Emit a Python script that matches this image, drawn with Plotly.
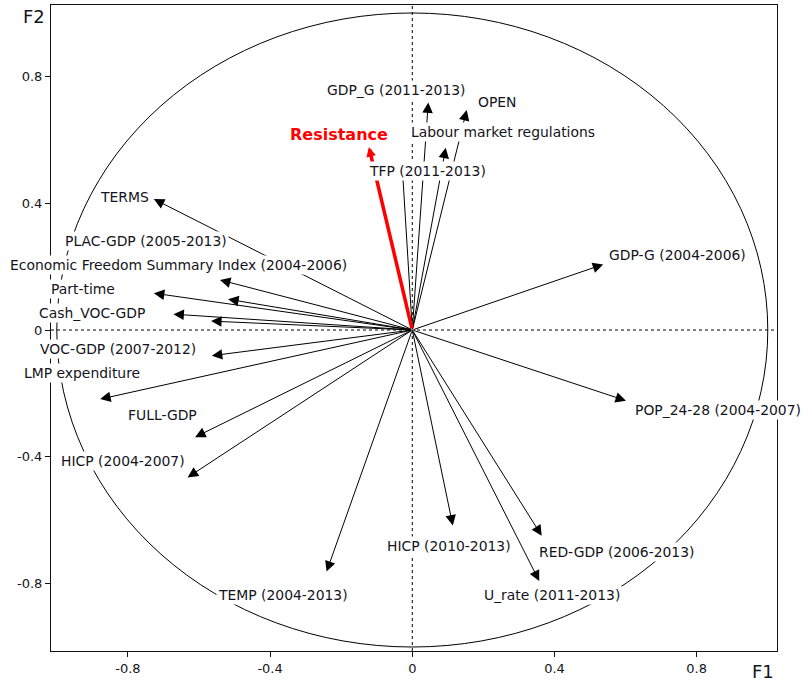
import plotly.graph_objects as go

# ---- data: loadings of active variables on F1 / F2 ----
variables = [
    "TERMS", "PLAC-GDP (2005-2013)", "Economic Freedom Summary Index (2004-2006)",
    "Part-time", "Cash_VOC-GDP", "", "VOC-GDP (2007-2012)", "LMP expenditure",
    "FULL-GDP", "HICP (2004-2007)", "TEMP (2004-2013)", "HICP (2010-2013)",
    "RED-GDP (2006-2013)", "U_rate (2011-2013)", "POP_24-28 (2004-2007)",
    "GDP-G (2004-2006)", "GDP_G (2011-2013)", "OPEN",
    "Labour market regulations", "TFP (2011-2013)",
]
f1 = [-0.727, -0.518, -0.541, -0.727, -0.672, -0.566, -0.564, -0.878,
      -0.611, -0.632, -0.241, 0.114, 0.364, 0.357, 0.601,
      0.537, 0.045, 0.153, 0.094, -0.028]
f2 = [0.413, 0.097, 0.158, 0.116, 0.050, 0.028, -0.081, -0.218,
      -0.338, -0.465, -0.762, -0.617, -0.649, -0.792, -0.223,
      0.207, 0.718, 0.694, 0.575, 0.510]

# supplementary variable
supp_names = ["Resistance"]
supp_f1 = [-0.122]
supp_f2 = [0.577]

tick_vals = [-0.8, -0.4, 0, 0.4, 0.8]
tick_text = ["-0.8", "-0.4", "0", "0.4", "0.8"]

# ---- label placement (pixel offsets from arrow tips) ----
label_offsets = {
    "TERMS": (-29, 2),
    "PLAC-GDP (2005-2013)": (-82, 58),
    "Economic Freedom Summary Index (2004-2006)": (-41, 15),
    "Part-time": (-71, 4),
    "Cash_VOC-GDP": (-81, 1),
    "VOC-GDP (2007-2012)": (-94, 7),
    "LMP expenditure": (-18, 26),
    "FULL-GDP": (-33, 22),
    "HICP (2004-2007)": (-65, 16),
    "TEMP (2004-2013)": (-44, -23),
    "HICP (2010-2013)": (-4, -20),
    "RED-GDP (2006-2013)": (75, -16),
    "U_rate (2011-2013)": (13, -14),
    "POP_24-28 (2004-2007)": (92, -9),
    "GDP-G (2004-2006)": (74, 9),
    "GDP_G (2011-2013)": (-32, 12),
    "OPEN": (30, 8),
    "Labour market regulations": (57, 16),
    "TFP (2011-2013)": (25, -3),
    "Resistance": (-30, 13),
}

FONT = "DejaVu Sans"
TXT = "#141420"

fig = go.Figure()
fig.add_trace(go.Scatter(x=f1, y=f2, mode="markers", marker=dict(size=1, opacity=0),
                         text=variables, hoverinfo="text", showlegend=False))

annotations = []
# arrows first
for name, x, y in zip(variables, f1, f2):
    annotations.append(dict(
        x=x, y=y, ax=0, ay=0, xref="x", yref="y", axref="x", ayref="y",
        text="", showarrow=True, arrowhead=2, arrowsize=2.1, arrowwidth=1,
        arrowcolor="black", standoff=0, startstandoff=0))
for name, x, y in zip(supp_names, supp_f1, supp_f2):
    annotations.append(dict(
        x=x, y=y, ax=0, ay=0, xref="x", yref="y", axref="x", ayref="y",
        text="", showarrow=True, arrowhead=2, arrowsize=0.55, arrowwidth=3.5,
        arrowcolor="#ff0000", standoff=0, startstandoff=0))
# labels on top (white background hides lines beneath)
for name, x, y in zip(variables, f1, f2):
    if not name:
        continue
    dx, dy = label_offsets[name]
    annotations.append(dict(
        x=x, y=y, xref="x", yref="y", text=name, showarrow=False,
        xshift=dx, yshift=dy, xanchor="center", yanchor="middle",
        bgcolor="white", borderpad=1,
        font=dict(family=FONT, size=13.9, color=TXT)))
for name, x, y in zip(supp_names, supp_f1, supp_f2):
    dx, dy = label_offsets[name]
    annotations.append(dict(
        x=x, y=y, xref="x", yref="y", text="<b>%s</b>" % name, showarrow=False,
        xshift=dx, yshift=dy, xanchor="center", yanchor="middle",
        bgcolor="white", borderpad=0,
        font=dict(family=FONT, size=16, color="#ff0000")))
# axis names
annotations.append(dict(x=-0.0241, y=0.9825, xref="paper", yref="paper", text="F2",
                        showarrow=False, xanchor="center", yanchor="middle",
                        font=dict(family=FONT, size=18, color=TXT)))
annotations.append(dict(x=0.9807, y=-0.0325, xref="paper", yref="paper", text="F1",
                        showarrow=False, xanchor="center", yanchor="middle",
                        font=dict(family=FONT, size=18, color=TXT)))

shapes = [
    dict(type="circle", xref="x", yref="y", x0=-1, y0=-1, x1=1, y1=1,
         line=dict(color="black", width=1), layer="below"),
    dict(type="line", xref="x", yref="paper", x0=0, x1=0, y0=0, y1=1,
         line=dict(color="black", width=1, dash="3px,3px"), layer="below"),
    dict(type="line", xref="paper", yref="y", x0=0, x1=1, y0=0, y1=0,
         line=dict(color="black", width=1, dash="3px,3px"), layer="below"),
]

axis_common = dict(
    showgrid=False, zeroline=False, showline=True, mirror=True,
    linecolor="#111", linewidth=1, ticks="outside", ticklen=5, tickcolor="#111",
    tickfont=dict(family=FONT, size=13, color=TXT),
    tickvals=tick_vals, ticktext=tick_text, fixedrange=True,
)

fig.update_layout(
    width=806, height=684,
    margin=dict(l=51, r=29, t=5, b=33),
    paper_bgcolor="white", plot_bgcolor="white",
    xaxis=dict(range=[-1.0163, 1.0259], **axis_common),
    yaxis=dict(range=[-1.0126, 1.0252], **axis_common),
    annotations=annotations, shapes=shapes, showlegend=False,
)

fig.write_html("out.html", config={"displayModeBar": False},
               post_script="document.body.style.margin='0px';"
                           "document.body.style.overflow='hidden';")
